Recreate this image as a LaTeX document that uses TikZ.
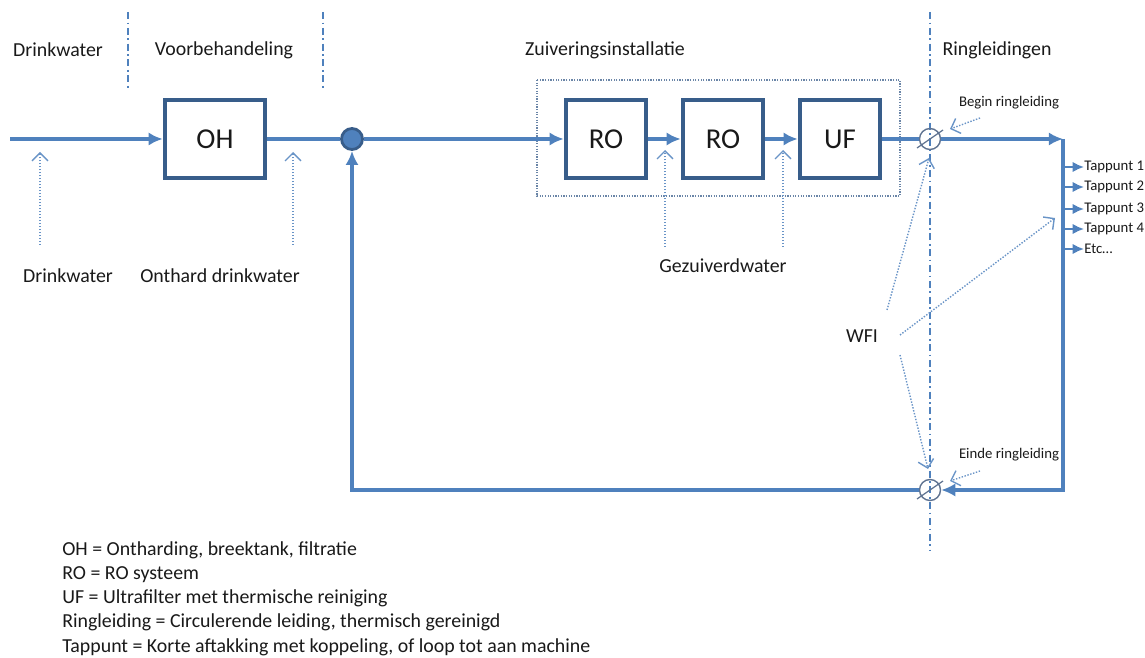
\documentclass[tikz,border=0pt]{standalone}
\usepackage{fontspec}
\setmainfont{Carlito}
\usetikzlibrary{arrows.meta,scopes}
\definecolor{pipe}{RGB}{79,129,189}
\definecolor{boxline}{RGB}{56,93,138}
\definecolor{valveline}{RGB}{95,115,145}
\definecolor{txt}{RGB}{25,25,25}

\begin{document}
\begin{tikzpicture}[x=0.02cm,y=-0.02cm,
    flow/.style={draw=pipe,line width=2.3pt},
    flowarrow/.style={flow,-{Latex[length=8pt,width=7.5pt]}},
    unit/.style={draw=boxline,line width=2.6pt,minimum height=1.56cm,minimum width=1.6cm,font=\fontsize{16.4}{19}\selectfont,text=txt},
    mixer/.style={circle,draw=boxline,fill=pipe,line width=1.6pt,minimum size=0.42cm,inner sep=0pt},
    valve/.style={circle,draw=valveline,line width=0.8pt,minimum size=0.42cm,inner sep=0pt},
    border/.style={draw=pipe,line width=0.7pt,dash pattern=on 4pt off 2pt on 1pt off 2pt},
    note/.style={draw=pipe!85,line width=0.8pt,dash pattern=on 0.8pt off 0.9pt,-{Straight Barb[length=4.5pt,width=9pt]}},
    lbl/.style={font=\fontsize{11.3}{13.6}\selectfont,text=txt},
    small/.style={font=\fontsize{8.4}{10}\selectfont,text=txt,inner sep=0pt},
    tap/.style={draw=pipe,line width=1.2pt,-{Latex[length=6.5pt,width=6pt]}},
]
\useasboundingbox (0,0) rectangle (1145,658);

	{[border]
	\draw (128,12) -- (128,88); % drinkwater | voorbehandeling
	\draw (323,12) -- (323,88); % voorbehandeling | zuivering
	\draw (930,12) -- (930,550); % zuivering | ringleidingen
	}
	% headers
	\node[lbl] (hdw) at (58,50) {Drinkwater};
	\node[lbl] (hvb) at (224,50) {Voorbehandeling};
	\node[lbl] (hzi) at (605,50) {Zuiveringsinstallatie};
	\node[lbl] (hrl) at (997,50) {Ringleidingen};

	\draw[draw=boxline!75,line width=0.6pt,dash pattern=on 0.7pt off 0.8pt] (537,80) rectangle (900,196); % zuiveringsinstallatie

	% units
	\node[unit,minimum width=2cm] (oh) at (215,139) {OH};
	\node[unit] (ro1) at (606,139) {RO};
	\node[unit] (ro2) at (723,139) {RO};
	\node[unit] (uf) at (840,139) {UF};
	\node[mixer] (mix) at (352,139) {};
	\node[valve] (vin) at (930,139) {};
	\node[valve] (vout) at (930,490) {};
	\draw[valveline,line width=0.7pt] ([shift={(-13,9)}]vin.center) -- ([shift={(13,-9)}]vin.center);
	\draw[valveline,line width=0.7pt] ([shift={(-13,9)}]vout.center) -- ([shift={(13,-9)}]vout.center);

	% main flow
	\coordinate (src) at (10,139);
	\coordinate (ne) at (1063,139);
	\coordinate (se) at (1063,490);
	\coordinate (sw) at (352,490);
	\draw[flowarrow] (src) -- (oh);
	\draw[flow] (oh) -- (mix);
	\draw[flowarrow] (mix) -- (ro1);
	\draw[flowarrow] (ro1) -- (ro2);
	\draw[flowarrow] (ro2) -- (uf);
	\draw[flow] (uf) -- (vin);
	\draw[flowarrow] (vin) -- (ne);
	\draw[flowarrow] (ne) -- (se) -- (vout); % ringleiding
	\draw[flowarrow] (vout) -- (sw) -- (mix); % retour

	% tappunten
	\foreach \y/\t [count=\i] in {167/{Tappunt 1},187/{Tappunt 2},209/{Tappunt 3},229/{Tappunt 4},249/{Etc\dots}}{
	\coordinate (tap\i) at (1063,\y);
	\node[small,anchor=west] (tl\i) at (1084,\y) {\t};
	\draw[tap] (tap\i) -- (tl\i);
	}

	% labels
	\node[lbl] (ldw) at (68,276) {Drinkwater};
	\node[lbl] (lod) at (220,276) {Onthard drinkwater};
	\node[lbl] (lgz) at (723,266) {Gezuiverdwater};
	\node[lbl] (wfi) at (862,336) {WFI};
	\node[small] (lbr) at (1009,103) {Begin ringleiding};
	\node[small] (ler) at (1009,455) {Einde ringleiding};

	{[note]
	\foreach \n/\a/\b in {dw/{40,245}/{40,152}, od/{293,245}/{293,152}, gza/{665,247}/{665,150}, gzb/{783,247}/{783,150},
	  br/{980,118}/{950,129}, er/{980,471}/{950,481}, wa/{887,310}/{929,158}, wb/{900,335}/{1055,218}, wc/{900,355}/{928,469}}{
	\coordinate (\n from) at (\a);
	\coordinate (\n to) at (\b);
	\draw (\n from) -- (\n to);
	}
	}

	% legend
	\foreach \y/\t in {555/{OH = Ontharding, breektank, filtratie},579/{RO = RO systeem},603/{UF = Ultrafilter met thermische reiniging},627/{Ringleiding = Circulerende leiding, thermisch gereinigd},652/{Tappunt = Korte aftakking met koppeling, of loop tot aan machine}}{
	\node[lbl,anchor=base west,inner xsep=0pt] at (62,\y) {\t};
	}

\end{tikzpicture}
\end{document}
